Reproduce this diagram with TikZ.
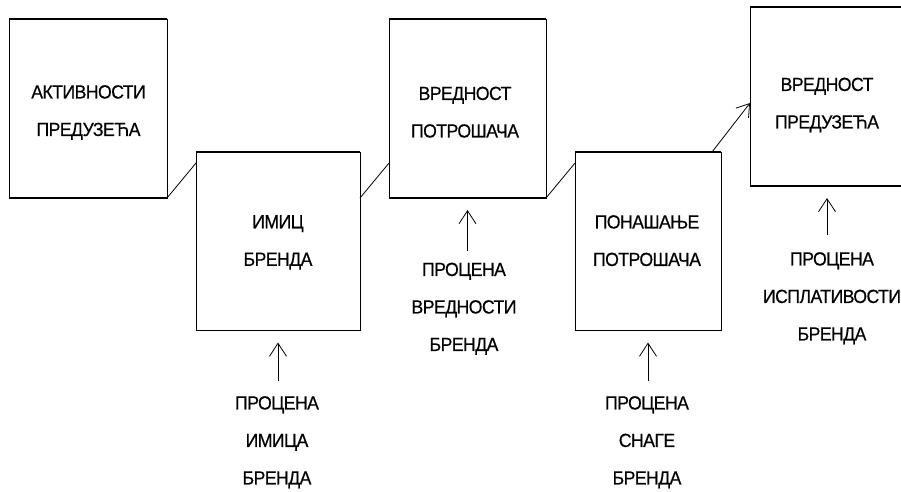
\documentclass[tikz,border=0pt]{standalone}
\usepackage{fontspec}
\setmainfont{Liberation Sans}[FakeStretch=0.93, LetterSpace=-3, FakeBold=0.5]
\usetikzlibrary{arrows.meta,calc}

\begin{document}
\begin{tikzpicture}[x=1pt,y=-1pt,
  box/.style={draw, rectangle, line width=0.9pt, inner sep=0pt, outer sep=0pt},
  rim/.style={line width=1.8pt},
  txt/.style={anchor=north, align=center, inner sep=0pt, font=\fontsize{19}{37.5}\selectfont},
  link/.style={line width=0.8pt},
  up/.style={line width=0.8pt, -{Straight Barb[length=13pt,width=17pt,line width=0.8pt]},
             shorten <=15pt, shorten >=12pt}]
\useasboundingbox (0,0) rectangle (901,491);

% the five stages
\node[box, minimum width=158pt, minimum height=179pt] (b1) at (88,108.5) {};
\node[box, minimum width=164pt, minimum height=178.5pt] (b2) at (278,241.3) {};
\node[box, minimum width=157pt, minimum height=179pt] (b3) at (467.5,108.5) {};
\node[box, minimum width=146pt, minimum height=178.5pt] (b4) at (648,241.3) {};
\node[box, minimum width=154pt, minimum height=179pt] (b5) at (827,96.5) {};

% heavier top and bottom edges
\foreach \b in {b1,b2,b3,b4,b5} {
  \draw[rim] (\b.north west) -- (\b.north east);
  \draw[rim] (\b.south west) -- (\b.south east);
}

% stage titles
\node[txt] (t1) at (88.5,85)  {АКТИВНОСТИ\\ПРЕДУЗЕЋА};
\node[txt] (t2) at (278,215)  {ИМИЦ\\БРЕНДА};
\node[txt] (t3) at (465,86.5) {ВРЕДНОСТ\\ПОТРОШАЧА};
\node[txt] (t4) at (647,215)  {ПОНАШАЊЕ\\ПОТРОШАЧА};
\node[txt] (t5) at (827,77.5) {ВРЕДНОСТ\\ПРЕДУЗЕЋА};

% measurement labels below the stages
\node[txt] (m2) at (277,396)   {ПРОЦЕНА\\ИМИЦА\\БРЕНДА};
\node[txt] (m3) at (464,262.5) {ПРОЦЕНА\\ВРЕДНОСТИ\\БРЕНДА};
\node[txt] (m4) at (647,396)   {ПРОЦЕНА\\СНАГЕ\\БРЕНДА};
\node[txt] (m5) at (832,252)   {ПРОЦЕНА\\ИСПЛАТИВОСТИ\\БРЕНДА};

% links between consecutive stages
\coordinate (j) at ([yshift=-11pt]b2.north west);
\draw[link] (b1.south east) -- (j);
\draw[link] (b2.east |- b1.south) -- (b3.west |- j);
\draw[link] (b3.south east) -- (b4.west |- j);
\draw[link, -{Straight Barb[length=12pt,width=16pt,line width=0.8pt]}]
  ([xshift=-9pt]b4.north east) -- ([yshift=-96pt]b5.north west);

% measurement arrows
\draw[up] (m2.north -| b2.south) -- (b2.south);
\draw[up, shorten <=12pt] (m3.north -| b3.south) -- (b3.south);
\draw[up] (m4.north -| b4.south) -- (b4.south);
\draw[up, shorten <=17pt] (m5.north -| b5.south) -- (b5.south);
\end{tikzpicture}
\end{document}
